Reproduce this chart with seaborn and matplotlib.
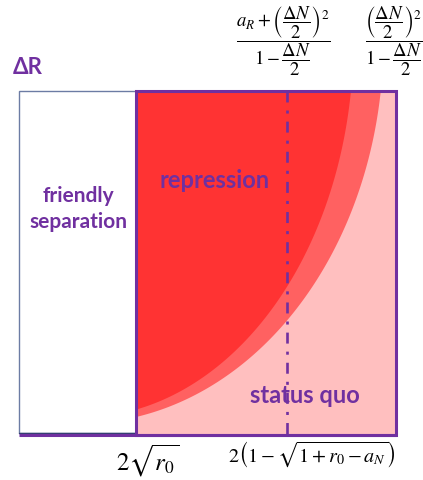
import numpy as np
import pandas as pd
import matplotlib
matplotlib.use("Agg")
import matplotlib.pyplot as plt
import seaborn as sns
from matplotlib.patches import Rectangle

# Layout of the (ΔN, ΔR) plane, in canvas units
plane_left, plane_right = 19, 396
plane_top, plane_bottom = 92, 436
separation_edge = 136        # ΔN = 2*sqrt(r0)
divider_x = 287              # ΔN = 2(1 - sqrt(1 + r0 - a_N))

# Regime boundaries drawn as quarter-ellipses: centre and semi-axes
boundary_names = ["outer", "inner"]
boundary_cx = [80, 80]
boundary_cy = [40, 40]
boundary_ax = [303, 273]
boundary_by = [384, 378]
boundary_colors = ["#ff6161", "#ff3333"]

region_labels = ["friendly\nseparation", "repression", "status quo"]
axis_label = "ΔR"
top_labels = [
    r"$\dfrac{a_R+\left(\dfrac{\Delta N}{2}\right)^2}{1-\dfrac{\Delta N}{2}}$",
    r"$\dfrac{\left(\dfrac{\Delta N}{2}\right)^2}{1-\dfrac{\Delta N}{2}}$",
]
bottom_labels = [r"$2\sqrt{r_0}$", r"$2\left(1-\sqrt{1+r_0-a_N}\right)$"]

PURPLE = "#7030a0"
PINK = "#ffbfbf"

sns.set_theme(style="white")
plt.rcParams["font.family"] = ["Lato", "DejaVu Sans"]
plt.rcParams["mathtext.fontset"] = "stix"
plt.rcParams["lines.scale_dashes"] = False

fig = plt.figure(figsize=(4.23, 4.81), dpi=100)
ax = fig.add_axes([0, 0, 1, 1])
ax.set_xlim(0, 423)
ax.set_ylim(481, 0)
ax.axis("off")

# status-quo background
ax.add_patch(Rectangle((separation_edge, plane_top), plane_right - separation_edge,
                       plane_bottom - plane_top, facecolor=PINK, edgecolor="none", zorder=1))

# repression regions bounded by the two quarter-ellipses
xs = np.linspace(separation_edge, plane_right, 3000)
for name, cx, cy, a, b, col in zip(boundary_names, boundary_cx, boundary_cy,
                                   boundary_ax, boundary_by, boundary_colors):
    inside = np.clip(1 - ((xs - cx) / a) ** 2, 0, None)
    edge = np.clip(cy + b * np.sqrt(inside), plane_top, plane_bottom)
    ax.fill_between(xs, plane_top, edge, color=col, linewidth=0, zorder=2)

# dash-dot divider
divider = pd.DataFrame({"x": [divider_x, divider_x], "y": [plane_top, plane_bottom]})
sns.lineplot(data=divider, x="x", y="y", ax=ax, sort=False, estimator=None,
             color=PURPLE, linewidth=1.9, zorder=4)
ax.lines[-1].set_linestyle((0, (7.9, 5.8, 2.2, 5.8)))
ax.lines[-1].set_dash_capstyle("butt")

# frames
ax.add_patch(Rectangle((plane_left, plane_top), separation_edge - plane_left,
                       plane_bottom - plane_top - 2, facecolor="white",
                       edgecolor="#6c7ca4", linewidth=1.0, zorder=3))
ax.plot([plane_left, separation_edge], [plane_bottom - 2, plane_bottom - 2],
        color="#333f70", linewidth=1.0, zorder=5)
ax.add_patch(Rectangle((separation_edge, plane_top), plane_right - separation_edge,
                       plane_bottom - plane_top, facecolor="none",
                       edgecolor=PURPLE, linewidth=2.2, zorder=5))
ax.plot([plane_left, plane_right], [plane_bottom, plane_bottom],
        color=PURPLE, linewidth=2.2, zorder=5, solid_capstyle="butt")

# region labels
lab_kw = dict(color=PURPLE, fontweight="bold", ha="center", va="center", zorder=6)
ax.text(78, 209, region_labels[0], fontsize=15, linespacing=1.35, **lab_kw)
ax.text(215, 181, region_labels[1], fontsize=17, **lab_kw)
ax.text(305, 396, region_labels[2], fontsize=17, **lab_kw)
ax.text(28, 67, axis_label, fontsize=16, **lab_kw)

# boundary formulas
ax.text(283, 41, top_labels[0], fontsize=13.5, ha="center", va="center", color="black")
ax.text(394, 41, top_labels[1], fontsize=13.5, ha="center", va="center", color="black")
ax.text(148, 461, bottom_labels[0], fontsize=18, ha="center", va="center", color="black")
ax.text(312, 455, bottom_labels[1], fontsize=14.5, ha="center", va="center", color="black")

fig.savefig("out.png", dpi=100)
